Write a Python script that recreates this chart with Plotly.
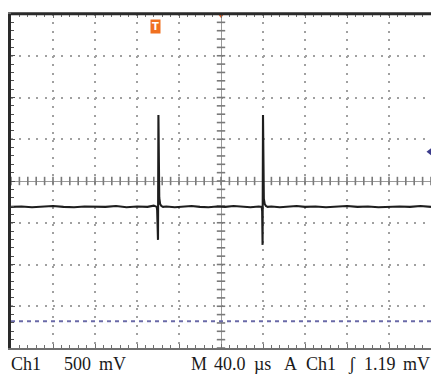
import plotly.graph_objects as go

# Trace values (divisions): x in horizontal divisions from centre, y in vertical divisions
trace_x = [-5.0, -4.75, -4.5, -4.25, -4.0, -3.75, -3.5, -3.25, -3.0, -2.75, -2.5, -2.25,
           -2.0, -1.75, -1.6, -1.53, -1.52, -1.50, -1.49, -1.47, -1.45, -1.42, -1.38, -1.3,
           -1.1, -0.9, -0.7, -0.5, -0.3, -0.1, 0.1, 0.3, 0.5, 0.7, 0.9, 0.97, 0.98, 0.99, 1.0,
           1.02, 1.04, 1.07, 1.11, 1.2, 1.4, 1.6, 1.8, 2.0, 2.25, 2.5, 2.75, 3.0, 3.25, 3.5,
           3.75, 4.0, 4.25, 4.5, 4.75, 5.0]
trace_y = [-0.62, -0.61, -0.63, -0.62, -0.60, -0.62, -0.63, -0.61, -0.62, -0.62, -0.60, -0.63,
           -0.61, -0.62, -0.59, -0.62, -0.70, -1.41, 1.58, -0.40, -0.55, -0.60, -0.62, -0.61,
           -0.63, -0.62, -0.60, -0.62, -0.63, -0.61, -0.62, -0.60, -0.62, -0.63, -0.61, -0.62,
           -0.72, -1.53, 1.58, -0.42, -0.55, -0.60, -0.62, -0.61, -0.63, -0.62, -0.60, -0.62,
           -0.61, -0.63, -0.62, -0.60, -0.62, -0.61, -0.63, -0.62, -0.61, -0.62, -0.60, -0.62]

ref_level = [-3.36]          # blue dashed reference line (divisions)
ch_marker_y = [0.70]         # channel ground marker on right edge
trig_pos_x = [-1.55]         # "T" trigger position badge
trig_pos_y = [3.69]

# status-line tokens and their left pixel positions
status_text = ["Ch1", "500", "mV", "M", "40.0", "\u00b5s", "A", "Ch1", "\u0283", "1.19", "mV"]
status_left = [10, 63, 98, 190, 213, 253, 283, 305, 347, 363, 402]

L, R, T, B = 11, 0, 14, 28
W, H = 431, 376
PW = W - L - R
PH = H - T - B

fig = go.Figure()

# centre graticule tick marks
cy = [round(-4 + 0.2 * i, 2) for i in range(41)]
cx = [round(-5 + 0.2 * i, 2) for i in range(51)]
fig.add_trace(go.Scatter(x=[0] * len(cy), y=cy, mode="markers",
                         marker=dict(symbol="line-ew", size=6, line=dict(color="#7a7a7a", width=1.6)),
                         hoverinfo="skip", showlegend=False))
fig.add_trace(go.Scatter(x=cx, y=[0] * len(cx), mode="markers",
                         marker=dict(symbol="line-ns", size=6, line=dict(color="#7a7a7a", width=1.6)),
                         hoverinfo="skip", showlegend=False))

# reference level line
fig.add_trace(go.Scatter(x=[-5, 5], y=ref_level * 2, mode="lines",
                         line=dict(color="#6a6aa8", width=2, dash="4px,4px"),
                         hoverinfo="skip", showlegend=False))

# signal
fig.add_trace(go.Scatter(x=trace_x, y=trace_y, mode="lines",
                         line=dict(color="#1e1e1e", width=2.1),
                         hoverinfo="skip", showlegend=False))

# channel marker
fig.add_trace(go.Scatter(x=[5], y=ch_marker_y, mode="markers",
                         marker=dict(symbol="triangle-left", size=9, color="#3c3c8c"),
                         cliponaxis=False, hoverinfo="skip", showlegend=False))
# trigger marker at top
fig.add_trace(go.Scatter(x=[0], y=[4], mode="markers",
                         marker=dict(symbol="triangle-down", size=8, color="#f06020"),
                         cliponaxis=False, hoverinfo="skip", showlegend=False))

fig.add_annotation(x=trig_pos_x[0], y=trig_pos_y[0], xref="x", yref="y", text="<b>T</b>",
                   showarrow=False, bgcolor="#f07020", borderpad=1,
                   font=dict(family="DejaVu Sans", size=10, color="white"))

# top border darker
fig.add_shape(type="line", xref="paper", yref="paper", x0=0, x1=1, y0=1, y1=1,
              line=dict(color="#2a2a2a", width=2.5))

fnt = dict(family="Liberation Serif", size=18, color="#1a1a1a")
ty = -(364 - (H - B)) / PH
for txt, left in zip(status_text, status_left):
    fig.add_annotation(x=(left - L) / PW, y=ty, xref="paper", yref="paper", text=txt,
                       xanchor="left", yanchor="middle", showarrow=False, font=fnt, borderpad=0)

fig.update_xaxes(range=[-5, 5], dtick=1, showgrid=True, gridcolor="#a0a0a0", gridwidth=1.5,
                 griddash="2px,6.4px", zeroline=True, zerolinecolor="#9a9a9a", zerolinewidth=1.2,
                 showline=True, linecolor="#707070", linewidth=2, mirror="ticks",
                 ticks="inside", ticklen=4, tickcolor="#707070",
                 minor=dict(ticks="inside", dtick=0.2, ticklen=3, tickcolor="#707070"),
                 showticklabels=False, fixedrange=True)
fig.update_yaxes(range=[-4, 4], dtick=1, showgrid=True, gridcolor="#a0a0a0", gridwidth=1.5,
                 griddash="2px,6.4px", zeroline=True, zerolinecolor="#9a9a9a", zerolinewidth=1.2,
                 showline=True, linecolor="#2a2a2a", linewidth=2.5,
                 ticks="inside", ticklen=4, tickcolor="#505050",
                 minor=dict(ticks="inside", dtick=0.2, ticklen=3, tickcolor="#505050"),
                 showticklabels=False, fixedrange=True)

fig.update_layout(width=W, height=H, margin=dict(l=L, r=R, t=T, b=B),
                  paper_bgcolor="white", plot_bgcolor="white", showlegend=False)

fig.write_html("out.html", config={"displayModeBar": False},
               post_script="document.body.style.margin='0px';document.body.style.overflow='hidden';")
